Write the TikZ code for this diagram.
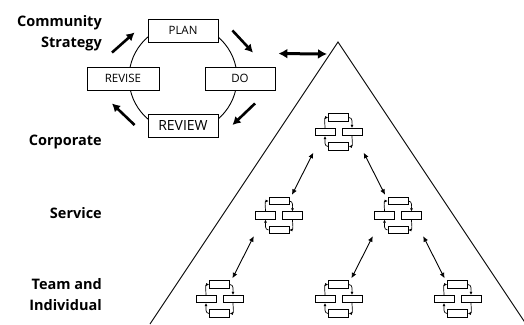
\documentclass[tikz,border=0pt]{standalone}
\usepackage{fontspec}
\setmainfont{Open Sans}
\usetikzlibrary{calc,arrows.meta,positioning}

\begin{document}
\begin{tikzpicture}
    [x=1pt,y=-1pt,
     lab/.style={anchor=base east,align=right,inner sep=0,
       font=\bfseries\fontsize{14.5}{20.5}\selectfont},
     cycbox/.style={draw,fill=white,line width=0.9pt,inner sep=0,
       minimum width=70pt,minimum height=23pt,
       font=\fontsize{11.5}{14}\selectfont},
     cyclearrow/.style={line width=2.6pt,->,>={Latex[length=8pt,width=9pt]}},
     bigarrow/.style={line width=3pt,<->,>={Latex[length=9pt,width=10pt]}},
     icon/.style={inner sep=0,minimum width=50pt,minimum height=41pt},
     minibox/.style={draw,fill=white,line width=0.8pt,inner sep=0,
       minimum width=20pt,minimum height=7.5pt},
     miniarrow/.style={line width=0.7pt,->,>={Latex[length=3pt,width=3pt]}},
     linkarrow/.style={line width=0.9pt,<->,>={Latex[length=5.5pt,width=5pt]}}]
    \useasboundingbox (0,0) rectangle (524,324);

    % labels
    \node[lab] (comm) at (102,47) {Community\\Strategy};
    \node[lab] (corp-lab) at (102,145.5) {Corporate};
    \node[lab] (serv-lab) at (102,218.3) {Service};
    \node[lab] (team-lab) at (102,310) {Team and\\Individual};

    % main cycle
    \coordinate (cyc) at (183,78);
    \draw[line width=0.9pt] (cyc) circle (54pt);
    \node[cycbox] (plan) at (183,30.5) {PLAN};
    \node[cycbox] (do) at (240,78.5) {DO};
    \node[cycbox] (review) at (183,126)
      [font=\fontsize{14}{16}\selectfont] {REVIEW};
    \node[cycbox,minimum width=72pt] (revise) at (123,78.5) {REVISE};
    \draw[cyclearrow] ([shift={(-11,-14)}]revise.north) -- ([shift={(-13,2)}]plan.west);
    \draw[cyclearrow] ([shift={(14,0)}]plan.east) -- ([shift={(13,-14)}]do.north);
    \draw[cyclearrow] ([shift={(15,13)}]do.south) -- ([shift={(14,-1)}]review.east);
    \draw[cyclearrow] ([shift={(-13,-1)}]review.west) -- ([shift={(-11,13)}]revise.south);

    % triangle
    \coordinate (apex) at (338,42);
    \draw[line width=0.9pt] (150,324) -- (apex) -- (526,324);
    \draw[bigarrow] ([shift={(3,-13)}]do.north east) -- ([shift={(-11,12)}]apex);

    % small cycles
    \begin{scope}[on grid,node distance=83.5pt and 59.5pt]
      \node[icon] (corp) at (338.5,132) {};
      \node[icon] (servl) [below left=of corp] {};
      \node[icon] (servr) [below right=of corp] {};
      \node[icon] (teaml) [below left=of servl] {};
      \node[icon] (teamm) [below right=of servl] {};
      \node[icon] (teamr) [below right=of servr] {};
    \end{scope}

    \foreach \n in {corp,servl,servr,teaml,teamm,teamr} {
      \node[minibox] (\n-t) at ([yshift=14.5pt]\n.center) {};
      \node[minibox] (\n-b) at ([yshift=-14.5pt]\n.center) {};
      \node[minibox] (\n-l) at ([xshift=-13.5pt]\n.center) {};
      \node[minibox] (\n-r) at ([xshift=13.5pt]\n.center) {};
      \draw[miniarrow] (\n-l.north) to[out=90,in=180] (\n-t.west);
      \draw[miniarrow] (\n-t.east) to[out=0,in=90] (\n-r.north);
      \draw[miniarrow] (\n-r.south) to[out=-90,in=0] (\n-b.east);
      \draw[miniarrow] (\n-b.west) to[out=180,in=-90] (\n-l.south);
    }
    \foreach \a / \b in {corp/servl,servl/teaml,servr/teamm} {
      \draw[linkarrow] (\a.south west) -- (\b.58);
    }
    \foreach \a / \b in {corp/servr,servr/teamr} {
      \draw[linkarrow] (\a.south east) -- (\b.122);
    }
\end{tikzpicture}
\end{document}
